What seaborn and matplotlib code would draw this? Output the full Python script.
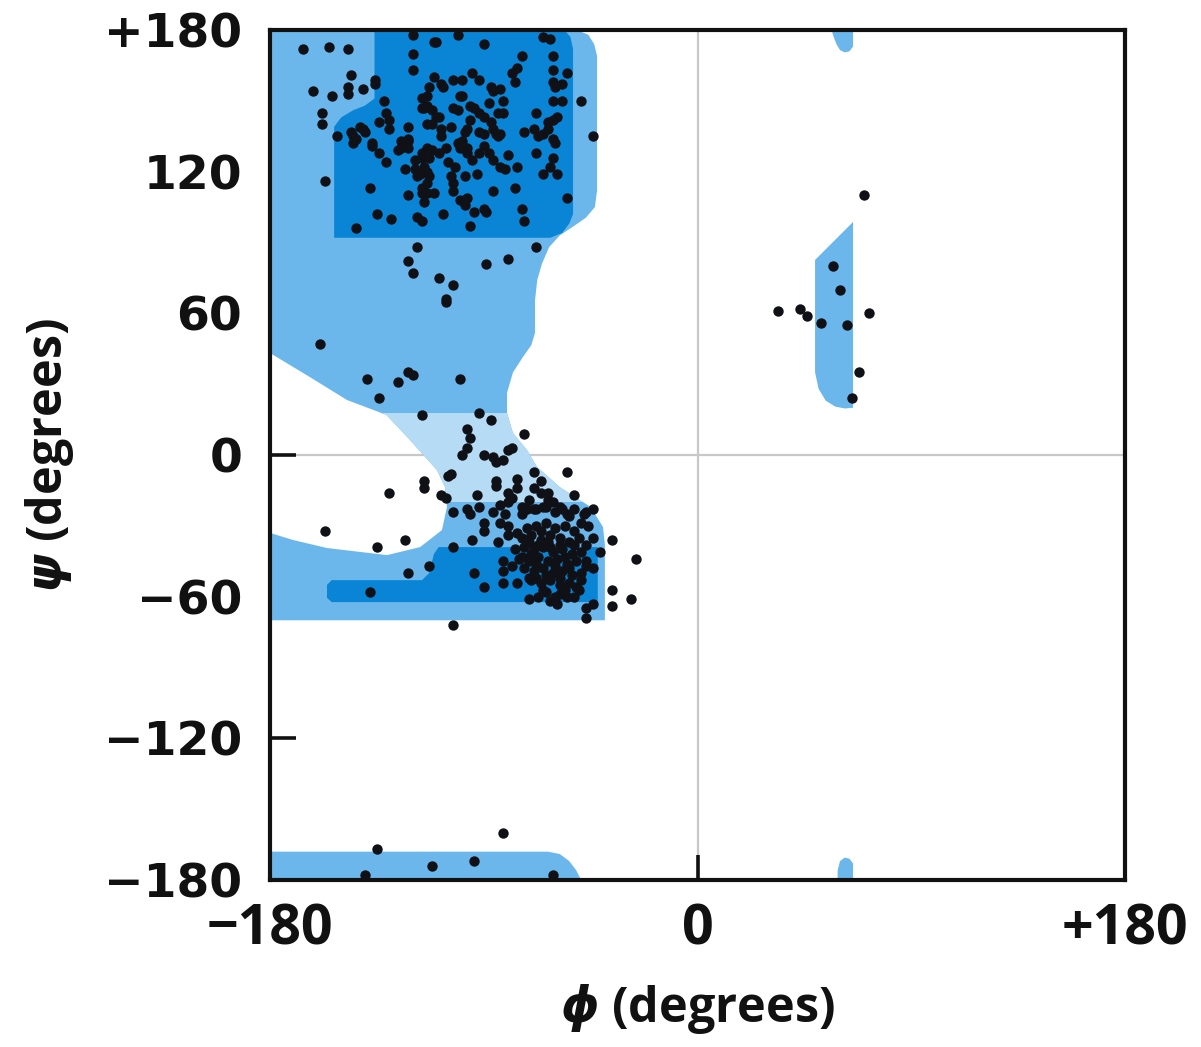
import matplotlib
matplotlib.use('Agg')
import matplotlib.pyplot as plt
from matplotlib.patches import Rectangle
import seaborn as sns
import pandas as pd

# allowed-region outline (phi, psi in degrees)
allowed_phi = [-180, -51, -46, -43.5, -42.3, -42.3, -43.2, -47, -52, -58, -62.5, -65.5, -67.5, -68.4, -68.4,
               -70, -73.5, -77.7, -80.2, -80.2, -77.7, -71.8, -67.6, -58, -45, -39.8, -39, -39,
               -180, -180, -170.3, -156, -130.7, -116.8, -107.6, -105.5, -106.3, -109.7, -121,
               -131, -147.6, -163.2, -180]
allowed_psi = [180, 180, 178, 174, 169, 112, 105, 100.5, 97, 93, 88, 81, 74, 65.6, 51.7,
               46.5, 41.5, 35, 26.3, 17.8, 9.3, 2.1, -5, -13.6, -22, -30.5, -38, -70,
               -70, -33, -36, -39.4, -42.4, -39, -31.8, -22, -13.6, -6.4, 6.3,
               17, 23.3, 33, 43.2]
bridge_psi = (-20, 18)

core_beta_phi = [-136, -136, -140, -145, -150, -153, -153, -62, -57, -54, -52.4, -52.4, -53.5, -56]
core_beta_psi = [180, 151, 148, 146, 143, 139, 92, 92, 94, 98, 102, 172, 177, 180]

core_alpha_phi = [-154, -116, -113, -111, -109, -42, -42, -154, -156, -156]
core_alpha_psi = [-53, -53, -50, -42, -39, -39, -62.3, -62.3, -60.5, -55]

wrap_phi = [-180, -180, -63, -58, -54, -51, -49]
wrap_psi = [-180, -168, -168, -169, -172, -176, -180]

top_blob_phi = [56.6, 65.5, 65.5, 64, 62, 60, 58.5, 57]
top_blob_psi = [180, 180, 173, 171, 170.5, 171.5, 174, 178]
bot_blob_phi = [59, 65.5, 65.5, 64, 62, 60, 59]
bot_blob_psi = [-180, -180, -173, -171, -170.5, -172, -176]

lhelix_phi = [49.5, 65.5, 65.5, 62, 58, 54, 51, 49.5]
lhelix_psi = [82.6, 98.7, 20, 19.7, 20.5, 23, 28, 35]

# observed residues
beta_dots = [(-166,172),(-155,173),(-147,172),(-120,178),(-111,175),(-101,178),(-90,174),(-65,177),(-62,176),
    (-120,170),(-120,163),(-74,169),(-162,154),(-154,152),(-146,161),(-147,156),(-147,153),(-141,155),
    (-136,159),(-136,157),(-158,145),(-158,140),(-152,135),(-157,116),(-144,96),(-132,150),(-131,145),
    (-130,142),(-134,141),(-141,138),(-140,137),(-145,135),(-145,132),(-137,132),(-130,138),(-146,137),
    (-144,134),(-142,139),(-137,131),(-134,128),(-131,124),(-138,113),(-135,102),(-129,100),(-122,139),
    (-122,134),(-125,130),(-122,130),(-126,129),(-123,121),(-122,110),(-119,121),(-118,118),(-116,126),
    (-115,122),(-114,120),(-113,118),(-116,113),(-114,111),(-115,107),(-118,101),(-116,99),(-114,140),
    (-116,151),(-115,147),(-113,156),(-109,143),(-108,135),(-108,157),(-103,159),(-99,159),(-100,152),
    (-103,147),(-101,146),(-95,162),(-92,159),(-87,156),(-86,154),(-83,155),(-96,148),(-94,147),(-92,145),
    (-90,143),(-87,141),(-86,138),(-82,150),(-84,145),(-82,145),(-78,162),(-76,164),(-77,158),(-97,138),
    (-99,133),(-100,130),(-97,128),(-95,125),(-92,128),(-90,131),(-88,128),(-86,125),(-83,122),(-81,121),
    (-84,135),(-85,136),(-80,127),(-76,122),(-108,138),(-93,119),(-86,112),(-77,113),(-104,118),(-103,115),
    (-100,108),(-97,109),(-98,106),(-103,112),(-107,102),(-96,97),(-94,103),(-90,104),(-89,103),(-74,104),
    (-73,99),(-73,137),(-69,138),(-67,135),(-65,136),(-63,138),(-63,141),(-61,142),(-59,143),(-61,134),
    (-60,132),(-68,128),(-61,126),(-62,122),(-59,119),(-65,119),(-68,145),(-61,150),(-57,150),(-61,158),
    (-60,156),(-57,157),(-61,163),(-55,162),(-61,169),(-55,109),(-49,150),(-44,135),(-68,88),(-118,88),
    (-122,82),(-120,77),(-109,75),(-103,72),(-106,66),(-89,81),(-80,83),(-110,175),(-112,146),(-99,152),
    (-88,149),(-98,137),(-90,136),(-83,136),(-101,132),(-97,130),(-114,152),(-114,148),(-116,147),
    (-110,143),(-112,140),(-125,133),(-122,133),(-114,130),(-116,111),(-114,115),(-111,111),(-117,119),
    (-119,125),(-116,128),(-113,126),(-112,129),(-111,160),(-107,156),(-109,128),(-105,124),(-106,130),
    (-102,122),(-98,118),(-104,139),(-96,142),(-92,137)]

bridge_dots = [(-106,65),(-159,47),(-139,32),(-126,31),(-122,35),(-120,34),(-100,32),(-134,24),(-116,17),
    (-92,18),(-87,15),(-73,9),(-97,11),(-96,7),(-97,3),(-99,0),(-90,0),(-86,-1),(-85,-3),(-82,-2),(-80,2),
    (-78,3),(-69,-7),(-55,-7),(-104,-8),(-105,-9),(-115,-11),(-115,-14),(-130,-16),(-108,-17),(-106,-18),
    (-93,-17),(-85,-11),(-85,-13),(-76,-10),(-76,-14),(-80,-16),(-78,-18),(-69,-14),(-66,-11),(-66,-16),
    (-63,-16),(-63,-19),(-52,-17)]

alpha_dots = [(-103,-24),(-97,-23),(-96,-25),(-157,-32),(-135,-39),(-123,-36),(-113,-47),(-122,-50),
    (-103,-39),(-95,-36),(-94,-50),(-90,-56),(-138,-58),(-71,-61),(-103,-72),(-36,-36),(-36,-57),(-36,-64),
    (-47,-65),(-44,-63),(-47,-69),(-59,-63),(-26,-44),(-28,-61),(-82,-45),(-82,-49),(-82,-54),(-76,-54),
    (-92,-22),(-86,-24),(-83,-21),(-90,-29),(-90,-32),(-83,-29),(-80,-30),(-80,-34),(-84,-37),(-77,-40),
    (-74,-25),(-72,-23),(-68,-23),(-64,-22),(-60,-24),(-58,-22),(-54,-26),(-52,-23),(-48,-25),(-44,-23),
    (-46,-30),(-44,-35),(-41,-41),(-47,-45),(-44,-48),(-49,-53),(-51,-56),(-55,-60),(-58,-59),(-65,-57),
    (-67,-60),(-71,-52),(-68,-52),(-74,-43),(-80,-20),(-81,-25),(-74,-22),(-71,-19),(-69,-23),(-57,-23),
    (-55,-25),(-47,-24),(-65,-22),(-61,-20),
    (-72,-31),(-68,-30),(-64,-29),(-60,-31),(-56,-30),(-52,-32),(-49,-29),(-74,-35),(-70,-34),(-66,-36),
    (-62,-34),(-58,-35),(-54,-37),(-50,-35),(-47,-38),(-73,-39),(-69,-40),(-65,-39),(-61,-41),(-57,-40),
    (-53,-42),(-49,-41),(-75,-44),(-71,-45),(-67,-43),(-63,-45),(-59,-44),(-55,-46),(-51,-45),(-47,-47),
    (-73,-48),(-69,-49),(-65,-48),(-61,-50),(-57,-49),(-53,-51),(-49,-50),(-70,-53),(-66,-54),(-62,-53),
    (-58,-55),(-54,-54),(-50,-57),(-64,-58),(-60,-60),(-56,-57),(-62,-62),(-52,-60),(-67,-38),(-63,-37),
    (-60,-47),(-56,-43),(-64,-51),(-68,-46),(-58,-52),(-54,-48),(-71,-37),(-66,-32),(-62,-39),(-52,-38),
    (-76,-33),(-78,-47),(-70,-42),(-58,-38)]

lhelix_dots = [(70,110),(57,80),(60,70),(34,61),(43,62),(46,59),(52,56),(63,55),(72,60),(68,35),(65,24)]
wrap_dots = [(-135,-167),(-140,-178),(-112,-174),(-94,-172),(-82,-160),(-61,-178)]

ticks = [-180, -120, -60, 0, 60, 120, 180]
ytick_labels = ['\u2212180', '\u2212120', '\u221260', '0', '60', '120', '+180']
xtick_labels = ['\u2212180', '0', '+180']

dark = '#0a85d5'
medium = '#6bb7eb'
pale = '#b6dbf5'
ink = '#111111'

sns.set_theme(style='white')
plt.rcParams['font.family'] = ['Open Sans', 'DejaVu Sans']
plt.rcParams['mathtext.fontset'] = 'custom'
plt.rcParams['mathtext.it'] = 'DejaVu Sans:italic:bold'
plt.rcParams['text.color'] = ink
plt.rcParams['axes.labelcolor'] = ink
plt.rcParams['xtick.color'] = ink
plt.rcParams['ytick.color'] = ink

fig = plt.figure(figsize=(12.01, 10.47), dpi=100)
ax = fig.add_axes([270 / 1201, 1 - 880 / 1047, 855 / 1201, 850 / 1047])

ax.axhline(0, color='#c8c8c8', lw=1.6, zorder=0.5)
ax.axvline(0, color='#c8c8c8', lw=1.6, zorder=0.5)

for px, py in [(allowed_phi, allowed_psi), (wrap_phi, wrap_psi), (top_blob_phi, top_blob_psi),
               (bot_blob_phi, bot_blob_psi), (lhelix_phi, lhelix_psi)]:
    ax.fill(px, py, color=medium, lw=0, zorder=1)

# the bridge between the two big regions is drawn paler
bridge = ax.fill(allowed_phi, allowed_psi, color=pale, lw=0, zorder=1.2)[0]
clip = Rectangle((-180, bridge_psi[0]), 360, bridge_psi[1] - bridge_psi[0], transform=ax.transData)
bridge.set_clip_path(clip)

ax.fill(core_beta_phi, core_beta_psi, color=dark, lw=0, zorder=1.5)
ax.fill(core_alpha_phi, core_alpha_psi, color=dark, lw=0, zorder=1.5)

dots = pd.DataFrame(beta_dots + bridge_dots + alpha_dots + lhelix_dots + wrap_dots, columns=['phi', 'psi'])
sns.scatterplot(data=dots, x='phi', y='psi', color='#0f1117', s=56, linewidth=0, ax=ax, zorder=3,
                clip_on=False)

ax.set_xlim(-180, 180)
ax.set_ylim(-180, 180)
ax.set_xticks([-180, 0, 180])
ax.set_xticklabels(xtick_labels)
ax.set_yticks(ticks)
ax.set_yticklabels(ytick_labels)
ax.tick_params(axis='y', direction='in', length=19, width=2.6, color=ink, labelcolor=ink, pad=20,
               labelsize=34, left=True)
ax.tick_params(axis='x', direction='in', length=18, width=2.6, color=ink, labelcolor=ink, pad=16,
               labelsize=40, bottom=True)
for lab in ax.get_yticklabels():
    lab.set_family(['DejaVu Sans'])
    lab.set_fontweight('bold')
for lab in ax.get_xticklabels():
    lab.set_fontweight('bold')
for sp in ax.spines.values():
    sp.set_linewidth(3.0)
    sp.set_color(ink)
    sp.set_zorder(4)

ax.set_xlabel(r'$\phi$ (degrees)', fontsize=35, fontweight='bold', labelpad=18, color=ink)
ax.set_ylabel(r'$\psi$ (degrees)', fontsize=35, fontweight='bold', labelpad=20, color=ink)
ax.grid(False)

fig.savefig('out.png', dpi=100)
